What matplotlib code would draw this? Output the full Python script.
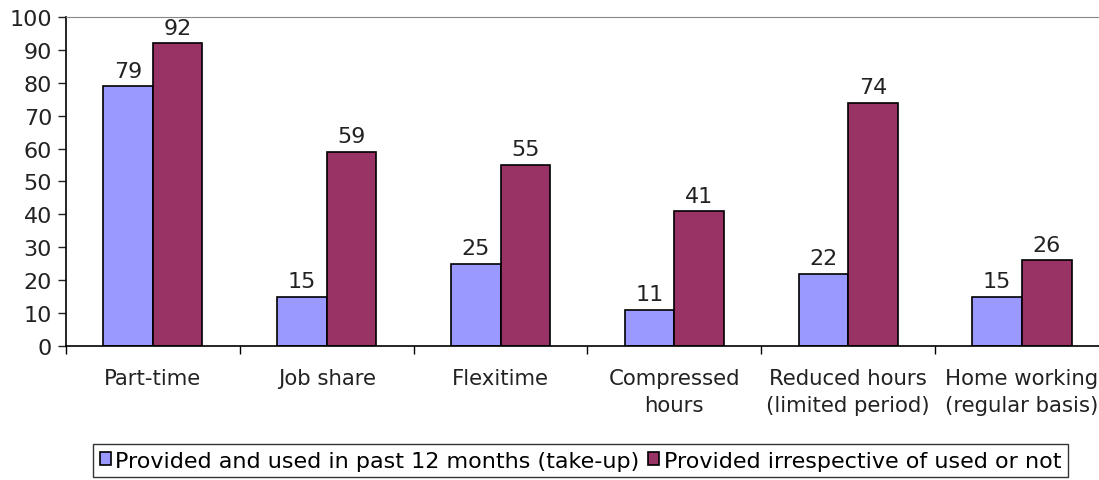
import numpy as np
import matplotlib.pyplot as plt

# datos
categorias = ["Part-time", "Job share", "Flexitime", "Compressed\nhours",
              "Reduced hours\n(limited period)", "Home working\n(regular basis)"]
usado = [79, 15, 25, 11, 22, 15]
provisto = [92, 59, 55, 41, 74, 26]
serie_nombres = ["Provided and used in past 12 months (take-up)",
                 "Provided irrespective of used or not"]

plt.rcParams['font.family'] = ['DejaVu Sans']
plt.rcParams['font.size'] = 16

fig = plt.figure(figsize=(10.99, 4.81), dpi=100)
ax = fig.add_axes([0.060, 0.2786, 0.949, 0.684])

x = np.arange(len(categorias))
ancho = 0.285
b1 = ax.bar(x - ancho / 2, usado, ancho, color="#9999FF", edgecolor="black", linewidth=1.2, label=serie_nombres[0])
b2 = ax.bar(x + ancho / 2, provisto, ancho, color="#993366", edgecolor="black", linewidth=1.2, label=serie_nombres[1])

for barras in (b1, b2):
    for b in barras:
        ax.annotate(str(int(b.get_height())), (b.get_x() + b.get_width() / 2, b.get_height()),
                    xytext=(0, 4), textcoords="offset points", ha="center", va="bottom", color="#222222")

ax.set_xlim(-0.5, len(categorias) - 0.5)
ax.set_ylim(0, 100)
ax.set_yticks(range(0, 101, 10))

# ticks del eje x entre categorias, etiquetas en el centro
ax.set_xticks(np.arange(-0.5, len(categorias) - 0.5, 1.0))
ax.set_xticklabels([])
ax.set_xticks(x, minor=True)
ax.set_xticklabels(categorias, minor=True, color="#222222", linespacing=1.45, fontsize=15.3)
ax.tick_params(axis="x", which="minor", length=0, pad=16)
ax.tick_params(axis="x", which="major", length=6, direction="out", width=1)
ax.tick_params(axis="y", length=6, direction="out", width=1, colors="#222222", pad=4)

ax.spines["top"].set_color("#888888")
ax.spines["right"].set_visible(False)
ax.spines["left"].set_linewidth(1.2)
ax.spines["bottom"].set_linewidth(1.2)

leg = fig.legend(loc="upper left", bbox_to_anchor=(0.0846, 0.0748), ncol=2, frameon=True,
                 fancybox=False, edgecolor="black", handlelength=0.5, handleheight=0.5,
                 handletextpad=0.2, columnspacing=0.4, borderpad=0.3, borderaxespad=0)
leg.get_frame().set_linewidth(1.0)

fig.savefig("out.png", dpi=100)
